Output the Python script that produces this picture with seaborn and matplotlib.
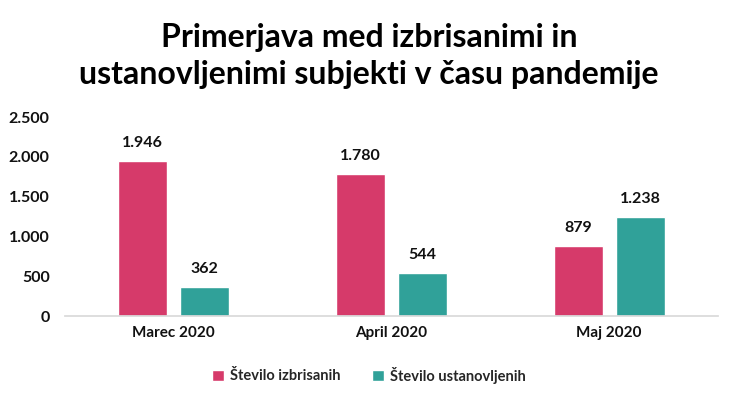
import matplotlib
matplotlib.use("Agg")
import matplotlib.pyplot as plt
import seaborn as sns
import pandas as pd
from matplotlib.ticker import FuncFormatter

months = ["Marec 2020", "April 2020", "Maj 2020"]
series_names = ["Število izbrisanih", "Število ustanovljenih"]
izbrisani = [1946, 1780, 879]
ustanovljeni = [362, 544, 1238]
y_ticks = [0, 500, 1000, 1500, 2000, 2500]

df = pd.DataFrame({
    "Mesec": months * 2,
    "Serija": [series_names[0]] * 3 + [series_names[1]] * 3,
    "Vrednost": izbrisani + ustanovljeni,
})

sns.set_theme(style="white")
plt.rcParams["font.family"] = ["Lato", "DejaVu Sans"]
plt.rcParams["font.weight"] = "bold"

fig = plt.figure(figsize=(7.38, 3.98), dpi=100)
ax = fig.add_axes([0.088, 0.206, 0.885, 0.5])

palette = {series_names[0]: "#D63A6A", series_names[1]: "#30A199"}
sns.barplot(data=df, x="Mesec", y="Vrednost", hue="Serija", palette=palette,
            width=0.57, gap=0.21, ax=ax, legend=True, saturation=1)

def fmt(v):
    return f"{int(v):,}".replace(",", ".")

for cont in ax.containers:
    ax.bar_label(cont, labels=[fmt(b.get_height()) for b in cont], padding=8,
                 fontsize=11.5, fontweight="bold", color="#111111")

ax.set_ylim(0, 2500)
ax.set_yticks(y_ticks)
ax.yaxis.set_major_formatter(FuncFormatter(lambda v, p: fmt(v)))
ax.set_xlabel("")
ax.set_ylabel("")
for s in ["top", "right", "left"]:
    ax.spines[s].set_visible(False)
ax.spines["bottom"].set_color("#D9D9D9")
ax.tick_params(axis="both", length=0, labelsize=11, colors="#111111")
ax.tick_params(axis="y", pad=11, labelsize=11.5)
ax.tick_params(axis="x", pad=7)
for lbl in ax.get_xticklabels() + ax.get_yticklabels():
    lbl.set_fontweight("bold")

leg = ax.legend(loc="center", ncol=2, frameon=False, fontsize=10.5, handlelength=0.8,
                handleheight=0.8, handletextpad=0.4, columnspacing=2.2)
leg.set_bbox_to_anchor((0.5, 1 - 375 / 398), transform=fig.transFigure)
for t in leg.get_texts():
    t.set_fontweight("bold")

fig.text(0.5, 1 - 56 / 398, "Primerjava med izbrisanimi in\nustanovljenimi subjekti v času pandemije",
         ha="center", va="center", fontsize=23, fontweight="bold", color="#000000",
         linespacing=1.32)

fig.savefig("out.png", dpi=100)
